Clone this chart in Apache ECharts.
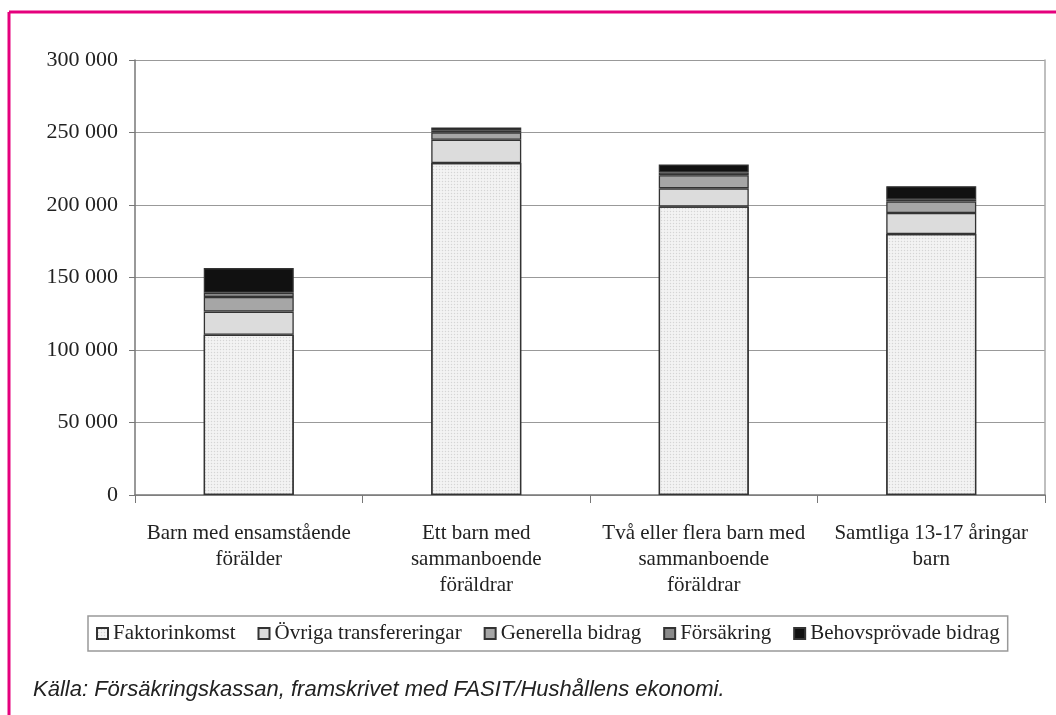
<!DOCTYPE html>
<html><head><meta charset="utf-8">
<script src="https://cdn.jsdelivr.net/npm/echarts@6/dist/echarts.min.js"></script>
<style>html,body{margin:0;padding:0;background:#fff}#c{width:1056px;height:715px}</style>
</head><body><div id="c"></div>
<script>
const categories = ["Barn med ensamstående\nförälder", "Ett barn med\nsammanboende\nföräldrar", "Två eller flera barn med\nsammanboende\nföräldrar", "Samtliga 13-17 åringar\nbarn"];
const faktorinkomst = [110500, 229000, 199000, 180000];
const ovriga = [16000, 16000, 12500, 14500];
const generella = [10000, 5000, 9000, 8000];
const forsakring = [3000, 1500, 2000, 1500];
const behovsprovade = [17000, 2000, 5500, 9000];
const seriesNames = ["Faktorinkomst", "Övriga transfereringar", "Generella bidrag", "Försäkring", "Behovsprövade bidrag"];
const seriesData = [faktorinkomst, ovriga, generella, forsakring, behovsprovade];
const colors = ["#f3f3f3", "#dcdcdc", "#a6a6a6", "#8a8a8a", "#111111"];
const serif = "Liberation Serif";

const chart = echarts.init(document.getElementById('c'));
chart.setOption({
  animation: false,
  grid: {left: 135, top: 60, right: 11, bottom: 220},
  xAxis: {
    type: 'category', data: categories,
    axisLine: {lineStyle: {color: '#777', width: 1.5}},
    axisTick: {show: true, interval: 0, length: 8, lineStyle: {color: '#777'}},
    axisLabel: {interval: 0, hideOverlap: false, color: '#222', fontFamily: serif, fontSize: 21, lineHeight: 26, margin: 25}
  },
  yAxis: [{
    type: 'value', min: 0, max: 300000, interval: 50000,
    axisLine: {show: true, lineStyle: {color: '#777', width: 1.5}},
    axisTick: {show: true, length: 6, lineStyle: {color: '#777'}},
    splitLine: {lineStyle: {color: '#999', width: 1}},
    axisLabel: {color: '#222', fontFamily: serif, fontSize: 22, margin: 17,
      formatter: v => v === 0 ? '0' : String(v).replace(/\B(?=(\d{3})+(?!\d))/g, ' ')}
  }, {
    type: 'value', min: 0, max: 300000, interval: 50000, position: 'right',
    axisLine: {show: true, lineStyle: {color: '#aaa', width: 1.5}},
    axisTick: {show: false}, axisLabel: {show: false}, splitLine: {show: false}
  }],
  legend: {
    left: 88, top: 616, padding: [7, 8], itemGap: 22,
    borderColor: '#999', borderWidth: 1.5,
    icon: 'rect', itemWidth: 11, itemHeight: 11,
    textStyle: {fontFamily: serif, fontSize: 21, color: '#222'},
    data: seriesNames
  },
  series: seriesNames.map((n, i) => {
    const style = {color: colors[i], borderColor: '#333', borderWidth: 1.3};
    if (i === 0) style.decal = {symbol: 'circle', symbolSize: 0.5, color: 'rgba(0,0,0,0.12)', dashArrayX: [3, 0], dashArrayY: [3, 0]};
    return {name: n, type: 'bar', stack: 'a', barWidth: 90, data: seriesData[i], itemStyle: style};
  }),
  graphic: [
    {type: 'line', shape: {x1: 9, y1: 12, x2: 1056, y2: 12}, style: {stroke: '#e5007d', lineWidth: 3}},
    {type: 'line', shape: {x1: 9, y1: 12, x2: 9, y2: 715}, style: {stroke: '#e5007d', lineWidth: 3}},
    {type: 'text', x: 33, y: 690, style: {text: 'Källa: Försäkringskassan, framskrivet med FASIT/Hushållens ekonomi.', fontFamily: 'Liberation Sans', fontStyle: 'italic', fontSize: 22, fill: '#222', verticalAlign: 'middle'}}
  ]
});
</script></body></html>
